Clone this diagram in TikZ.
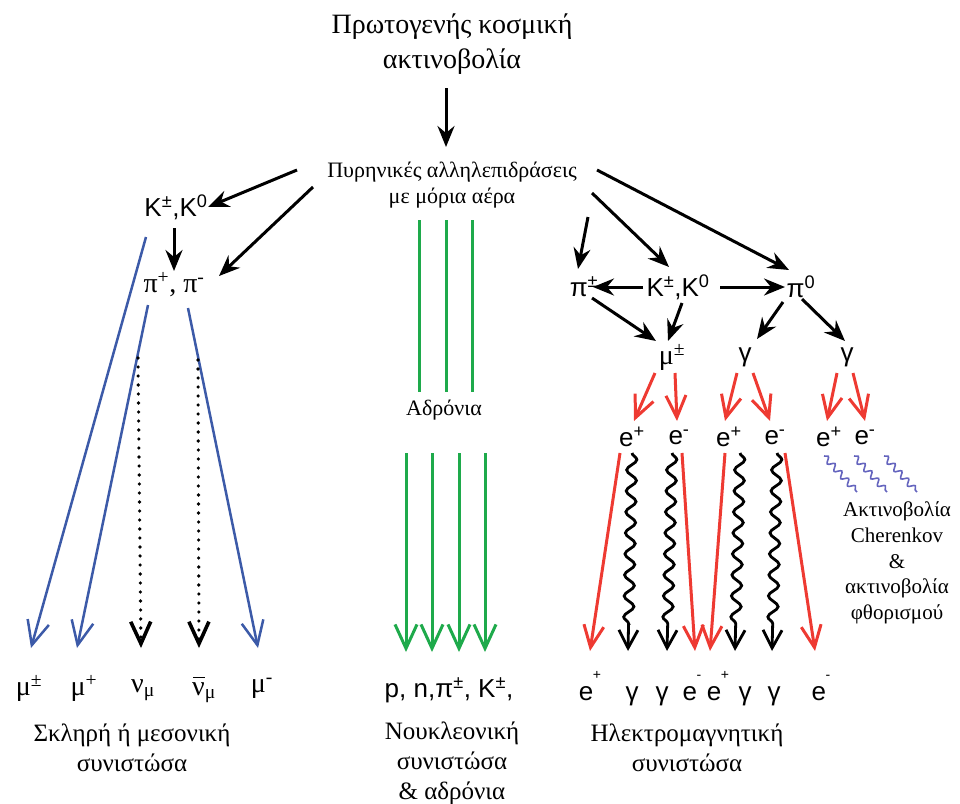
\documentclass[tikz,border=0pt]{standalone}
\usepackage{fontspec}
\setmainfont{Liberation Serif}
\newfontfamily\psans{Liberation Sans}
\usetikzlibrary{arrows.meta,decorations.pathmorphing}
\definecolor{cblue}{RGB}{60,90,168}
\definecolor{cgreen}{RGB}{30,170,75}
\definecolor{cred}{RGB}{238,58,50}
\definecolor{cwig}{RGB}{100,100,190}
\newcommand\psup[2]{#1\kern-0.5pt\raisebox{0.8em}{\fontsize{14}{14}\selectfont #2}}
\newcommand\nubar{\leavevmode\rlap{\kern1pt\raisebox{17pt}{\rule{12pt}{1.3pt}}}ν}
\tikzset{
  txtbig/.style={font=\fontsize{28}{35}\selectfont, align=center, inner sep=0pt},
  txtmid/.style={font=\fontsize{22}{26}\selectfont, align=center, inner sep=0pt},
  txtlow/.style={font=\fontsize{25}{30}\selectfont, align=center, inner sep=0pt},
  txtcher/.style={font=\fontsize{21}{25.8}\selectfont, align=center, inner sep=0pt},
  parts/.style={font=\psans\fontsize{26}{26}\selectfont, inner sep=0pt},
  parti/.style={font=\fontsize{28}{28}\selectfont, inner sep=0pt},
  botlab/.style={parts, anchor=base},
  blkarrow/.style={line width=3pt, -{Stealth[length=21pt,width=17pt,inset=7pt]}},
  bluearrow/.style={draw=cblue, line width=2.5pt, -{Straight Barb[length=24pt,width=22pt]}},
  dotarrow/.style={line width=3.6pt, line cap=round, dash pattern=on 0pt off 9pt, -{Straight Barb[length=22pt,width=20pt]}},
  greenline/.style={draw=cgreen, line width=3pt},
  greenarrow/.style={draw=cgreen, line width=3pt, -{Straight Barb[length=24pt,width=22pt]}},
  redarrow/.style={draw=cred, line width=3pt, -{Straight Barb[length=22pt,width=20pt]}},
  wavyarrow/.style={line width=2.8pt, decorate, decoration={snake, segment length=21pt, amplitude=5pt, post length=20pt}, -{Straight Barb[length=18pt,width=19pt]}},
  cherwig/.style={draw=cwig, line width=1.6pt, decorate, decoration={snake, segment length=10pt, amplitude=3pt}}
}
\begin{document}
\begin{tikzpicture}[x=1pt,y=-1pt]
\useasboundingbox (0,0) rectangle (960,803);

% ---------- top ----------
\node[txtbig] (title) at (452,44) {Πρωτογενής κοσμική\\ακτινοβολία};
\node[txtmid] (inter) at (452,185) {Πυρηνικές αλληλεπιδράσεις\\με μόρια αέρα};
\coordinate (ta) at (446,88);
\coordinate (tb) at (446,147);
\draw[blkarrow] (ta) -- (tb);

% ---------- left: hard component ----------
\node[parts] (Kl) at (176,207) {K\textsuperscript{±},K\textsuperscript{0}};
\node[parti] (pil) at (174,285) {π\textsuperscript{+}, π\textsuperscript{-}};
\coordinate (l1a) at (297,170); \coordinate (l1b) at (208,207);
\coordinate (l2a) at (313,187); \coordinate (l2b) at (219,276);
\coordinate (l3a) at (174,228); \coordinate (l3b) at (174,271);
\draw[blkarrow] (l1a) -- (l1b);
\draw[blkarrow] (l2a) -- (l2b);
\draw[blkarrow] (l3a) -- (l3b);

\coordinate (b1a) at (146,237); \coordinate (b1b) at (31,648);
\coordinate (b2a) at (148,305); \coordinate (b2b) at (77,648);
\coordinate (b3a) at (188,308); \coordinate (b3b) at (258,648);
\draw[bluearrow] (b1a) -- (b1b);
\draw[bluearrow] (b2a) -- (b2b);
\draw[bluearrow] (b3a) -- (b3b);
\coordinate (d1a) at (138,358); \coordinate (d1b) at (141,648);
\coordinate (d2a) at (198,360); \coordinate (d2b) at (199,648);
\draw[dotarrow] (d1a) -- (d1b);
\draw[dotarrow] (d2a) -- (d2b);

\node[parti] (mu1) at (29,688) {μ\textsuperscript{±}};
\node[parti] (mu2) at (84,688) {μ\textsuperscript{+}};
\node[parti] (nu1) at (143,690) {ν\textsubscript{μ}};
\node[parti] (nu2) at (204,690) {\nubar\textsubscript{μ}};
\node[parti] (mu3) at (262,688) {μ\textsuperscript{-}};
\node[txtlow] (hard) at (132,748) {Σκληρή ή μεσονική\\συνιστώσα};

% ---------- middle: nucleonic ----------
\foreach \x/\n in {419/g1,446/g2,472/g3}{
  \coordinate (\n a) at (\x,220); \coordinate (\n b) at (\x,392);
  \draw[greenline] (\n a) -- (\n b);
}
\node[txtmid] (hadr) at (444,410) {Αδρόνια};
\foreach \x/\n in {406/h1,432/h2,459/h3,485/h4}{
  \coordinate (\n a) at (\x,453); \coordinate (\n b) at (\x,652);
  \draw[greenarrow] (\n a) -- (\n b);
}
\node[parts] (nucp) at (449,690) {p, n,π\textsuperscript{±}, K\textsuperscript{±},};
\node[txtlow] (nuct) at (452,763) {Νουκλεονική\\συνιστώσα\\\& αδρόνια};

% ---------- right: electromagnetic ----------
\node[parts] (pir) at (584,287) {π\textsuperscript{±}};
\node[parts] (Kr) at (678,287) {K\textsuperscript{±},K\textsuperscript{0}};
\node[parts] (pi0) at (801,287) {π\textsuperscript{0}};
\coordinate (r1a) at (597,170); \coordinate (r1b) at (789,270);
\coordinate (r2a) at (592,193); \coordinate (r2b) at (669,267);
\coordinate (r3a) at (588,217); \coordinate (r3b) at (578,269);
\draw[blkarrow] (r1a) -- (r1b);
\draw[blkarrow] (r2a) -- (r2b);
\draw[blkarrow] (r3a) -- (r3b);
\coordinate (k1a) at (643,287); \coordinate (k1b) at (593,287);
\coordinate (k2a) at (720,287); \coordinate (k2b) at (785,287);
\draw[blkarrow] (k1a) -- (k1b);
\draw[blkarrow] (k2a) -- (k2b);
\coordinate (m1a) at (592,298); \coordinate (m1b) at (656,341);
\coordinate (m2a) at (682,303); \coordinate (m2b) at (668,341);
\coordinate (m3a) at (783,302); \coordinate (m3b) at (757,339);
\coordinate (m4a) at (802,299); \coordinate (m4b) at (845,341);
\draw[blkarrow] (m1a) -- (m1b);
\draw[blkarrow] (m2a) -- (m2b);
\draw[blkarrow] (m3a) -- (m3b);
\draw[blkarrow] (m4a) -- (m4b);

\node[parti] (mur) at (672,357) {μ\textsuperscript{±}};
\node[parts] (gm1) at (745,357) {γ};
\node[parts] (gm2) at (847,357) {γ};

\coordinate (e1a) at (655,373); \coordinate (e1b) at (634,421);
\coordinate (e2a) at (675,373); \coordinate (e2b) at (677,421);
\coordinate (e3a) at (737,373); \coordinate (e3b) at (725,421);
\coordinate (e4a) at (753,373); \coordinate (e4b) at (770,421);
\coordinate (e5a) at (837,373); \coordinate (e5b) at (827,421);
\coordinate (e6a) at (853,373); \coordinate (e6b) at (865,421);
\foreach \n in {e1,e2,e3,e4,e5,e6}{\draw[redarrow] (\n a) -- (\n b);}

\node[parts] (ep1) at (632,437) {e\textsuperscript{+}};
\node[parts] (em1) at (679,437) {e\textsuperscript{-}};
\node[parts] (ep2) at (729,437) {e\textsuperscript{+}};
\node[parts] (em2) at (775,437) {e\textsuperscript{-}};
\node[parts] (ep3) at (829,437) {e\textsuperscript{+}};
\node[parts] (em3) at (865,437) {e\textsuperscript{-}};

\coordinate (s1a) at (620,453); \coordinate (s1b) at (590,651);
\coordinate (s2a) at (682,453); \coordinate (s2b) at (695,651);
\coordinate (s3a) at (725,453); \coordinate (s3b) at (710,651);
\coordinate (s4a) at (785,453); \coordinate (s4b) at (815,651);
\foreach \n in {s1,s2,s3,s4}{\draw[redarrow] (\n a) -- (\n b);}
\coordinate (w1a) at (632,453); \coordinate (w1b) at (628,651);
\coordinate (w2a) at (672,453); \coordinate (w2b) at (667,651);
\coordinate (w3a) at (740,453); \coordinate (w3b) at (735,651);
\coordinate (w4a) at (777,453); \coordinate (w4b) at (772,651);
\foreach \n in {w1,w2,w3,w4}{\draw[wavyarrow] (\n a) -- (\n b);}

\coordinate (c1a) at (824,456); \coordinate (c1b) at (857,492);
\coordinate (c2a) at (854,456); \coordinate (c2b) at (887,492);
\coordinate (c3a) at (884,456); \coordinate (c3b) at (917,492);
\foreach \n in {c1,c2,c3}{\draw[cherwig] (\n a) -- (\n b);}
\node[txtcher] (cher) at (897,563) {Ακτινοβολία\\Cherenkov\\\&\\ακτινοβολία\\φθορισμού};

\node[botlab] (fe1) at (590,700) {\psup{e}{+}};
\node[botlab] (fg1) at (632,700) {γ};
\node[botlab] (fg2) at (662,700) {γ};
\node[botlab] (fe2) at (692,700) {\psup{e}{-}};
\node[botlab] (fe3) at (718,700) {\psup{e}{+}};
\node[botlab] (fg3) at (745,700) {γ};
\node[botlab] (fg4) at (774,700) {γ};
\node[botlab] (fe4) at (821,700) {\psup{e}{-}};
\node[txtlow] (emt) at (687,748) {Ηλεκτρομαγνητική\\συνιστώσα};
\end{tikzpicture}
\end{document}
